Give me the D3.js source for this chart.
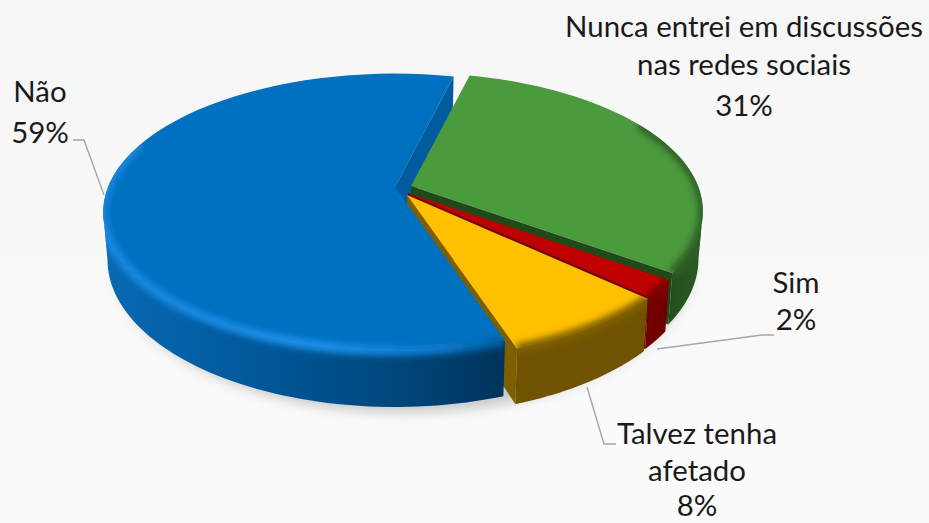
<!DOCTYPE html>
<html>
<head>
<meta charset="UTF-8">
<title></title>
<style>
html, body { margin: 0; padding: 0; background: #fafafa; }
svg { display: block; }
text { font-family: Lato, sans-serif; font-size: 29.4px; fill: #1a1a1a; text-anchor: middle; }
</style>
</head>
<body>
<svg width="929" height="523"></svg>
<script src="https://cdn.jsdelivr.net/npm/d3@7"></script>
<script>
// valores
var categories = ["Nunca entrei em discussões nas redes sociais", "Sim", "Talvez tenha afetado", "Não"];
var values = [31, 2, 8, 59];
var labelLines = [["Nunca entrei em discussões", "nas redes sociais", "31%"], ["Sim", "2%"], ["Talvez tenha", "afetado", "8%"], ["Não", "59%"]];

// cores de cada fatia: topo, parede, corte, borda
var topColors = ["#4c9a3e", "#c00000", "#ffc000", "#0070c0"];
var wallColors = ["#27501e", "#700000", "#6f5300", "#00508f"];
var cutColors = ["#1f4a18", "#7a0000", "#7d5e00", "#005c9e"];
var rimColors = ["#2f6226", "#800000", "#806000", "#2092ea"];

// layout
var origins = [[411, 186], [408, 193], [407, 195], [395, 187]];
var labelX = [744, 796, 697, 40];
var labelY = [37, 293, 444, 102];
var labelStep = [[0, 38, 79], [0, 37], [0, 37, 72], [0, 41]];
var leaders = [
  null,
  [[657, 349], [762, 335], [774, 335]],
  [[587, 387], [604, 444], [616, 444]],
  [[73, 140], [84, 140], [104, 195]]
];
var radius = 287, tilt = 134, persp = 5.5, depth = 46;

var svg = d3.select("svg");
var defs = svg.append("defs");

function gradient(id, x1, x2, stops) {
  var g = defs.append("linearGradient").attr("id", id)
    .attr("gradientUnits", "userSpaceOnUse")
    .attr("x1", x1).attr("x2", x2).attr("y1", 0).attr("y2", 0);
  stops.forEach(function(s) {
    g.append("stop").attr("offset", s[0]).attr("stop-color", s[1]);
  });
}
function blur(id, amount) {
  defs.append("filter").attr("id", id)
    .attr("filterUnits", "userSpaceOnUse")
    .attr("x", 0).attr("y", 0).attr("width", 929).attr("height", 523)
    .append("feGaussianBlur").attr("stdDeviation", amount);
}
gradient("bg", 0, 0, []);
defs.select("#bg").attr("x2", 0).attr("y2", 523);
defs.select("#bg").append("stop").attr("offset", 0).attr("stop-color", "#f6f6f6");
defs.select("#bg").append("stop").attr("offset", 1).attr("stop-color", "#fbfbfb");
gradient("wallBlue", 103, 502, [[0, "#0a69b4"], [0.4, "#00579a"], [0.75, "#00467a"], [1, "#00345c"]]);
gradient("rimBlue", 103, 502, [[0, "#1486dc"], [0.55, "#1c90ea"], [0.85, "#0a78cc"], [1, "#005f9f"]]);
gradient("wallGreen", 640, 702, [[0, "#1f4518"], [1, "#2b5a22"]]);
blur("soft", 3);
blur("shadow", 6);

svg.append("rect").attr("width", 929).attr("height", 523).attr("fill", "url(#bg)");

var rad = d3.scaleLinear().domain([0, 360]).range([0, 2 * Math.PI]);
var line = d3.line();

// disco em perspectiva: z=0 topo, z=1 base
function project(a, r, z, o) {
  var X = Math.sin(a), Y = -Math.cos(a);
  var s = persp / (persp - r * Y);
  return [
    o[0] + radius * r * X * s * (1 - z * 0.015),
    o[1] + tilt * r * Y * s + depth * z * s
  ];
}
function arcPoints(a0, a1, r, z, o) {
  return d3.range(0, 61).map(function(i) {
    return project(a0 + (a1 - a0) * i / 60, r, z, o);
  });
}

var pie = d3.pie().sort(null).startAngle(rad(13.9)).endAngle(rad(13.9) + 2 * Math.PI);
var slices = pie(values).map(function(d, i) {
  return { i: i, a0: d.startAngle, a1: d.endAngle, o: origins[i] };
});

// sombra
svg.append("path")
  .attr("d", line(arcPoints(0, 2 * Math.PI, 1, 1, [404, 193])) + "Z")
  .attr("fill", "#9a9a9a").attr("opacity", 0.5).attr("filter", "url(#shadow)");

function topPath(d) {
  return line([d.o].concat(arcPoints(d.a0, d.a1, 1, 0, d.o))) + "Z";
}
// parede so entre os extremos do disco, para o contorno ficar tangente
function wallPath(d) {
  var a0 = Math.max(d.a0, rad(100.5)), a1 = Math.min(d.a1, rad(259.5));
  var pts = arcPoints(a0, a1, 1, 0, d.o).concat(arcPoints(a1, a0, 1, 1, d.o));
  return line(pts) + "Z";
}
function cutPath(a, d) {
  return line([d.o, project(a, 1, 0, d.o), project(a, 1, 1, d.o), project(a, 0, 1, d.o)]) + "Z";
}

// corte de tras da fatia azul
var blue = slices[3];
svg.append("path").attr("d", cutPath(blue.a1, blue)).attr("fill", cutColors[3]);

function drawSlice(d) {
  var g = svg.append("g");
  var c = d.i;
  if (c !== 3) {
    g.append("path").attr("d", cutPath(d.a1, d)).attr("fill", cutColors[c]);
  }
  g.append("path").attr("d", wallPath(d))
    .attr("fill", c === 3 ? "url(#wallBlue)" : c === 0 ? "url(#wallGreen)" : wallColors[c]);
  g.append("path").attr("d", topPath(d)).attr("fill", topColors[c]);

  // borda chanfrada
  var clip = defs.append("clipPath").attr("id", "clip" + c);
  clip.append("path").attr("d", topPath(d));
  clip.append("path").attr("d", wallPath(d));
  var a0 = Math.max(d.a0, rad(60)), a1 = Math.min(d.a1, rad(290));
  g.append("g").attr("clip-path", "url(#clip" + c + ")")
    .append("path")
    .attr("d", line(arcPoints(a0, a1, 1, 0, d.o)))
    .attr("fill", "none")
    .attr("stroke", c === 3 ? "url(#rimBlue)" : rimColors[c])
    .attr("stroke-width", 10)
    .attr("filter", "url(#soft)");
}
[0, 1, 2, 3].forEach(function(i) { drawSlice(slices[i]); });

// linhas de chamada
leaders.forEach(function(p) {
  if (!p) return;
  svg.append("path").attr("d", line(p))
    .attr("fill", "none").attr("stroke", "#a6a6a6").attr("stroke-width", 1.4);
});

// rotulos
svg.append("g").selectAll("text").data(categories).join("text")
  .attr("aria-label", function(d) { return d; })
  .each(function(d, i) {
    d3.select(this).selectAll("tspan").data(labelLines[i]).join("tspan")
      .attr("x", labelX[i])
      .attr("y", function(t, j) { return labelY[i] + labelStep[i][j]; })
      .text(function(t) { return t; });
  });
</script>
</body>
</html>
